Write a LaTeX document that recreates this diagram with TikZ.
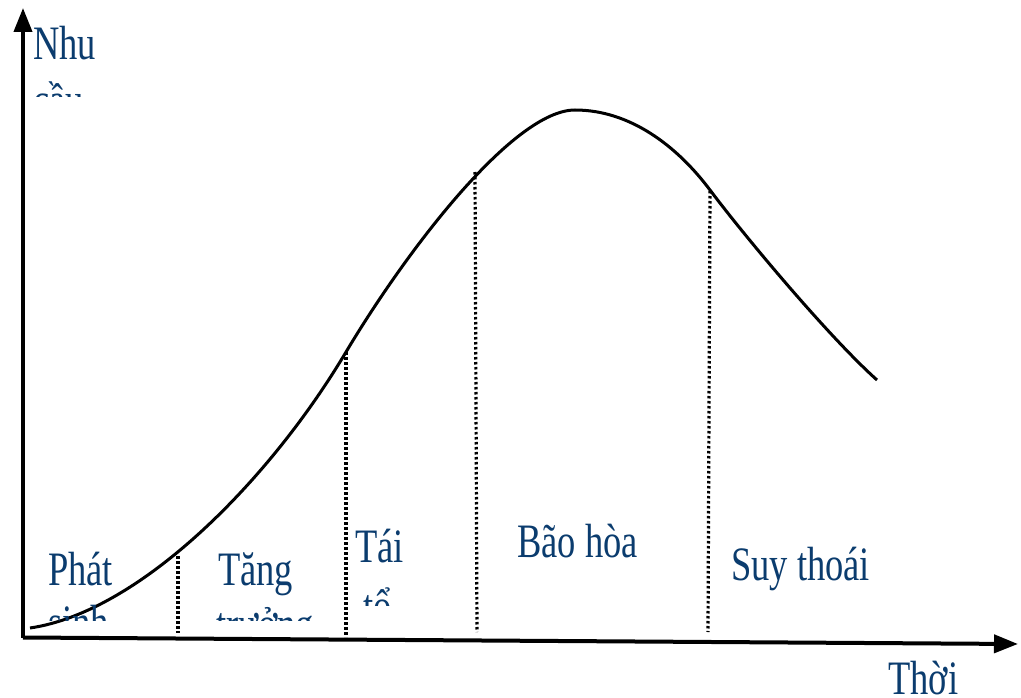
\documentclass[tikz,border=0pt]{standalone}
\usepackage{fontspec}
\setmainfont[FakeStretch=0.76]{Liberation Serif}
\usetikzlibrary{arrows.meta}
\definecolor{lblc}{HTML}{0B3C6E}
\begin{document}
\begin{tikzpicture}[x=1pt,y=-1pt,
  lbl/.style={text=lblc,font=\fontsize{48}{56}\selectfont,inner sep=0pt,anchor=base west},
  axis/.style={line width=4pt,-{Triangle[length=24pt,width=18pt]}},
  curve/.style={line width=3pt},
  guide/.style={line width=3.2pt,dash pattern=on 2.5pt off 2.5pt}]
\useasboundingbox (0,0) rectangle (1021,698);
% axes
\coordinate (O) at (23,637.5);
\coordinate (ytip) at (23,8);
\coordinate (xtip) at (1018,644);
\draw[axis] (O) -- (ytip);
\draw[axis] (O) -- (xtip);
% curve
\coordinate (c0) at (30,628);
\coordinate (c1) at (346,352);
\coordinate (c2) at (575,110);
\coordinate (c3) at (710,190);
\coordinate (c4) at (877,380);
\draw[curve] (c0) .. controls (140,612) and (270,480) .. (c1)
  .. controls (410,245) and (515,110) .. (c2)
  .. controls (630,110) and (677,146) .. (c3)
  .. controls (746,238) and (830,338) .. (c4);
% guides
\coordinate (g1t) at (178,556); \coordinate (g1b) at (178,633);
\coordinate (g2t) at (346,352); \coordinate (g2b) at (346,637);
\coordinate (g3t) at (475,172); \coordinate (g3b) at (477,632);
\coordinate (g4t) at (710,191); \coordinate (g4b) at (708,632);
\draw[guide] (g1t) -- (g1b);
\draw[guide] (g2t) -- (g2b);
\draw[guide] (g3t) -- (g3b);
\draw[guide] (g4t) -- (g4b);
% labels
\node[lbl] (nhu) at (33,60) {Nhu};
\begin{scope}\clip (0,0) rectangle (200,97);
\node[lbl] (cau) at (33,117) {cầu};
\end{scope}
\node[lbl] (phat) at (48,585) {Phát};
\begin{scope}\clip (0,560) rectangle (180,620);
\node[lbl] (sinh) at (48,638) {sinh};
\end{scope}
\node[lbl] (tang) at (218,585) {Tăng};
\begin{scope}\clip (190,590) rectangle (340,620);
\node[lbl] (truong) at (216,640) {trưởng};
\end{scope}
\node[lbl] (tai) at (355,562) {Tái};
\begin{scope}\clip (350,570) rectangle (460,605);
\node[lbl] (to) at (363,622) {tổ};
\end{scope}
\node[lbl] (bao) at (517,557) {Bão hòa};
\node[lbl] (suy) at (731,580) {Suy thoái};
\node[lbl] (thoi) at (888,694) {Thời};
\end{tikzpicture}
\end{document}
